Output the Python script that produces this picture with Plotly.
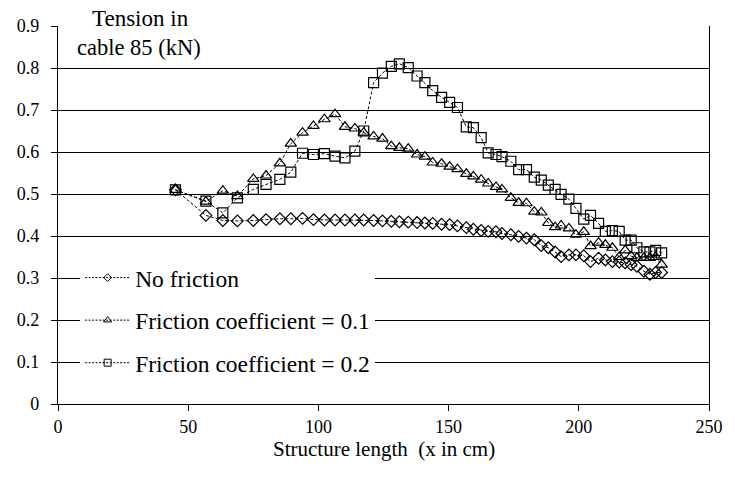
import plotly.graph_objects as go

x_cm = [45.1, 56.8, 63.3, 68.9, 75.0, 79.9, 85.2, 89.4, 93.9, 98.1,
        102.3, 106.4, 110.2, 114.0, 117.4, 121.2, 124.6, 128.0, 131.1, 134.5,
        137.9, 140.9, 143.9, 147.3, 150.4, 153.4, 156.8, 159.5, 162.5, 165.2,
        168.2, 170.5, 173.9, 176.9, 179.9, 182.9, 185.6, 188.3, 190.9, 193.2,
        196.2, 198.9, 201.9, 204.5, 207.6, 210.2, 212.9, 215.5, 217.8, 220.1,
        222.3, 225.0, 227.3, 229.5, 231.8]

no_friction = [0.510, 0.449, 0.437, 0.436, 0.437, 0.439, 0.441, 0.441, 0.442, 0.439,
               0.438, 0.438, 0.438, 0.438, 0.438, 0.437, 0.436, 0.435, 0.434, 0.433,
               0.432, 0.431, 0.430, 0.428, 0.427, 0.424, 0.420, 0.416, 0.413, 0.411,
               0.410, 0.406, 0.403, 0.399, 0.395, 0.391, 0.377, 0.372, 0.362, 0.351,
               0.355, 0.355, 0.353, 0.339, 0.347, 0.343, 0.339, 0.338, 0.336, 0.332,
               0.328, 0.316, 0.309, 0.313, 0.313]

friction_01 = [0.510, 0.482, 0.508, 0.495, 0.536, 0.544, 0.573, 0.620, 0.646, 0.662,
               0.678, 0.690, 0.660, 0.656, 0.646, 0.637, 0.632, 0.614, 0.610, 0.608,
               0.594, 0.589, 0.575, 0.572, 0.565, 0.559, 0.548, 0.542, 0.534, 0.525,
               0.517, 0.511, 0.491, 0.479, 0.478, 0.458, 0.456, 0.431, 0.421, 0.425,
               0.418, 0.403, 0.410, 0.376, 0.384, 0.379, 0.372, 0.350, 0.366, 0.352,
               0.348, 0.348, 0.348, 0.350, 0.332]

friction_02 = [0.510, 0.483, 0.455, 0.491, 0.511, 0.523, 0.535, 0.552, 0.597, 0.594,
               0.596, 0.590, 0.586, 0.602, 0.650, 0.765, 0.788, 0.804, 0.810, 0.801,
               0.781, 0.765, 0.746, 0.730, 0.718, 0.706, 0.660, 0.658, 0.634, 0.598,
               0.594, 0.589, 0.578, 0.558, 0.558, 0.540, 0.533, 0.521, 0.511, 0.499,
               0.488, 0.466, 0.440, 0.449, 0.430, 0.411, 0.413, 0.411, 0.390, 0.390,
               0.372, 0.362, 0.362, 0.366, 0.360]

series_names = ["No friction", "Friction coefficient = 0.1", "Friction coefficient = 0.2"]
series_values = [no_friction, friction_01, friction_02]
symbols = ["diamond-open", "triangle-up-open", "square-open"]
plot_sizes = [9, 10, 10]
legend_sizes = [6, 7, 7]

x_ticks = [0, 50, 100, 150, 200, 250]
y_ticks = [0, 0.1, 0.2, 0.3, 0.4, 0.5, 0.6, 0.7, 0.8, 0.9]
y_tick_labels = ["0", "0.1", "0.2", "0.3", "0.4", "0.5", "0.6", "0.7", "0.8", "0.9"]

FONT = "Liberation Serif"

fig = go.Figure()
for name, vals, sym, ps in zip(series_names, series_values, symbols, plot_sizes):
    fig.add_trace(go.Scatter(
        x=x_cm, y=vals, mode="lines+markers", name=name, showlegend=False,
        line=dict(color="black", width=1, dash="3px,2px"),
        marker=dict(symbol=sym, size=ps, color="black", line=dict(width=1.2, color="black")),
    ))
for i, (name, sym, ls) in enumerate(zip(series_names, symbols, legend_sizes)):
    fig.add_trace(go.Scatter(
        x=[None], y=[None], mode="lines+markers", name=name, legendgroup=f"g{i}",
        line=dict(color="black", width=1, dash="2px,1.5px"),
        marker=dict(symbol=sym, size=ls, color="black", line=dict(width=1, color="black")),
    ))

fig.update_layout(
    width=735, height=478,
    margin=dict(l=58, r=16, t=26, b=74),
    paper_bgcolor="white", plot_bgcolor="white",
    font=dict(family=FONT, color="black", size=18),
    showlegend=True,
    legend=dict(
        x=0.034, y=0.392, xanchor="left", yanchor="top",
        bgcolor="white", borderwidth=0,
        font=dict(family=FONT, size=23.5, color="black"),
        itemwidth=45, tracegroupgap=9,
    ),
    xaxis=dict(
        range=[0, 250], tickvals=x_ticks, ticks="outside", ticklen=6, tickwidth=1,
        tickcolor="black", showline=True, linecolor="black", linewidth=1.3,
        showgrid=False, zeroline=False, tickfont=dict(family=FONT, size=18),
    ),
    yaxis=dict(
        range=[0, 0.9], tickvals=y_ticks, ticktext=y_tick_labels, ticks="outside",
        ticklen=6, tickwidth=1, tickcolor="black", showline=True, linecolor="black",
        linewidth=1.3, mirror=True, showgrid=True, gridcolor="black", gridwidth=1.3,
        zeroline=False, tickfont=dict(family=FONT, size=18), ticklabelstandoff=8,
    ),
    shapes=[
        dict(type="rect", xref="paper", yref="paper", x0=0.021, x1=0.215,
             y0=0.985, y1=1.015, fillcolor="white", line=dict(width=0), layer="above"),
    ],
    annotations=[
        dict(text="Tension in", xref="paper", yref="paper", x=0.127, y=1.021,
             xanchor="center", yanchor="middle", showarrow=False,
             font=dict(family=FONT, size=23), bgcolor="white"),
        dict(text="cable 85 (kN)", xref="paper", yref="paper", x=0.125, y=0.942,
             xanchor="center", yanchor="middle", showarrow=False,
             font=dict(family=FONT, size=22.5), bgcolor="white"),
        dict(text="Structure length  (x in cm)", xref="paper", yref="paper",
             x=0.5, y=-0.12, xanchor="center", yanchor="middle", showarrow=False,
             font=dict(family=FONT, size=21)),
    ],
)

fig.write_html("out.html")
